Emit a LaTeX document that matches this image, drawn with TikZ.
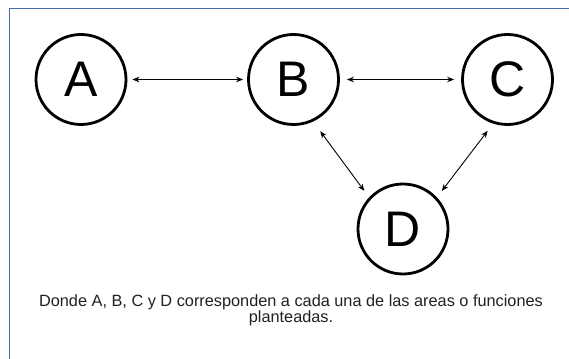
\documentclass[tikz,border=0pt]{standalone}
\usepackage{fontspec}
\setmainfont{Liberation Sans}
\usetikzlibrary{arrows.meta}
\definecolor{framecol}{HTML}{4A6FA8}
\tikzset{
  area/.style={circle, draw=black, line width=2.8pt, minimum size=90pt, inner sep=0pt, font=\fontsize{50}{50}\selectfont},
  link/.style={line width=0.9pt, {Stealth[length=7pt,width=5.5pt]}-{Stealth[length=7pt,width=5.5pt]}}
}
\begin{document}
\begin{tikzpicture}[x=1pt,y=-1pt]
\useasboundingbox (0,0) rectangle (569,358);
\fill[white] (0,0) rectangle (569,358);
\draw[framecol, line width=1.8pt] (9.5,360) -- (9.5,8.5) -- (571,8.5);
\node[area] (A) at (81,79.5) {A};
\node[area] (B) at (293.5,79.5) {B};
\node[area] (C) at (507.5,79.5) {C};
\node[area] (D) at (403,229) {D};
\draw[link, shorten <=5pt, shorten >=4pt] (A.east) -- (B.west);
\draw[link, shorten <=7pt, shorten >=7pt] (B.east) -- (C.west);
\draw[link, shorten <=12pt, shorten >=8pt] (B.-65) -- (D.137);
\draw[link, shorten <=9pt, shorten >=8pt] (C.-108) -- (D.43);
\node[font=\fontsize{16.3}{16}\selectfont, align=center, text=black!87] (cap) at (291,310)
  {Donde A, B, C y D corresponden a cada una de las areas o funciones\\planteadas.};
\end{tikzpicture}
\end{document}
